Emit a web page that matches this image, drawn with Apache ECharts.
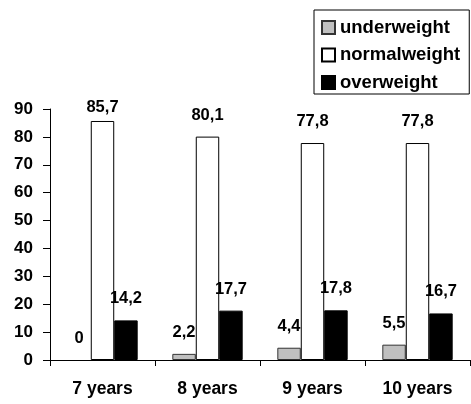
<!DOCTYPE html>
<html>
<head>
<meta charset="utf-8">
<script src="https://cdn.jsdelivr.net/npm/echarts@6/dist/echarts.min.js"></script>
<style>
  html, body { margin: 0; padding: 0; background: #fff; }
  #chart { width: 471px; height: 404px; }
</style>
</head>
<body>
<div id="chart"></div>
<script>
// Age groups and weight-status shares (%)
const categories = ['7 years', '8 years', '9 years', '10 years'];
const underweight = [0, 2.2, 4.4, 5.5];
const normalweight = [85.7, 80.1, 77.8, 77.8];
const overweight = [14.2, 17.7, 17.8, 16.7];
const yTicks = { min: 0, max: 90, interval: 10 };

const FONT = '"Liberation Sans", Arial, sans-serif';
const fmt = v => String(v).replace('.', ',');

function labelCfg(distance) {
  return {
    show: true,
    position: 'top',
    distance: distance,
    color: '#000',
    fontFamily: FONT,
    fontWeight: 'bold',
    fontSize: 16.5,
    formatter: p => fmt(p.value)
  };
}

function bars(name, values, fill, border) {
  return {
    name: name,
    type: 'bar',
    barGap: '0%',
    barCategoryGap: '33%',
    data: values.map((v, i) => {
      const item = { value: v };
      // a zero-height bar leaves no outline on the axis
      if (v === 0) item.itemStyle = { borderWidth: 0 };
      // the tallest bar's label sits closer to keep it under the legend
      if (name === 'normalweight' && i === 0) item.label = { distance: 5 };
      return item;
    }),
    itemStyle: { color: fill, borderColor: border, borderWidth: 1 },
    label: labelCfg(13)
  };
}

const chart = echarts.init(document.getElementById('chart'), null, { renderer: 'canvas' });
chart.setOption({
  animation: false,
  backgroundColor: '#fff',
  grid: { left: 50, right: 1, top: 109, bottom: 44, containLabel: false },
  legend: {
    orient: 'vertical',
    left: 314,
    top: 10,
    padding: [8, 9, 2, 7],
    itemGap: 8.5,
    itemWidth: 13,
    itemHeight: 13,
    icon: 'rect',
    borderColor: '#000',
    borderWidth: 1,
    backgroundColor: '#fff',
    textStyle: { fontFamily: FONT, fontWeight: 'bold', fontSize: 18.5, color: '#000' },
    data: ['underweight', 'normalweight', 'overweight']
  },
  xAxis: {
    type: 'category',
    data: categories,
    axisLine: { lineStyle: { color: '#000', width: 1 } },
    axisTick: { show: true, length: 6, lineStyle: { color: '#000' } },
    axisLabel: { margin: 20, color: '#000', fontFamily: FONT, fontWeight: 'bold', fontSize: 17.5 }
  },
  yAxis: {
    type: 'value',
    min: yTicks.min,
    max: yTicks.max,
    interval: yTicks.interval,
    splitLine: { show: false },
    axisLine: { show: true, lineStyle: { color: '#000', width: 1 } },
    axisTick: { show: true, length: 7, lineStyle: { color: '#000' } },
    axisLabel: { margin: 17, color: '#000', fontFamily: FONT, fontWeight: 'bold', fontSize: 17 }
  },
  series: [
    bars('underweight', underweight, '#c0c0c0', '#333'),
    bars('normalweight', normalweight, '#ffffff', '#000'),
    bars('overweight', overweight, '#000000', '#000')
  ]
});
</script>
</body>
</html>
